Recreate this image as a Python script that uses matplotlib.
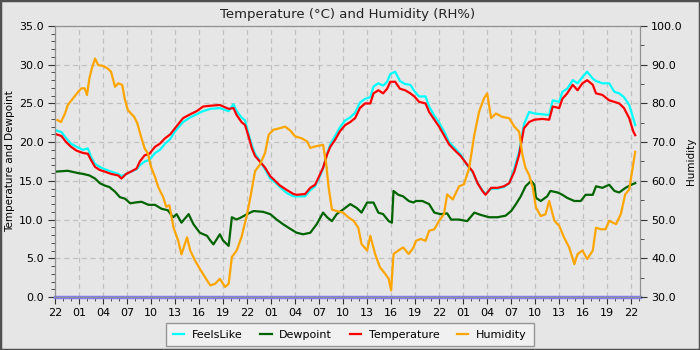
import numpy as np
import matplotlib
matplotlib.use("Agg")
import matplotlib.pyplot as plt
from matplotlib.ticker import MultipleLocator, FormatStrFormatter

# hours since 22:00 on the first day
hour_labels = ["22", "01", "04", "07", "10", "13", "16", "19"] * 3 + ["22"]

temp_t = [0.2, 0.8, 1.4, 2.0, 2.7, 3.5, 4.1, 4.5, 5.0, 5.6, 6.2, 7.0, 7.9, 8.3, 8.9, 9.5,
          10.2, 10.6, 11.2, 11.8, 12.5, 13.1, 13.75, 14.4, 15.0, 16.0, 16.9, 17.7, 18.5, 19.4,
          20.6, 21.7, 22.3, 22.7, 23.3, 23.75, 24.2, 24.6, 25.0, 25.6, 26.25, 26.9, 27.5, 28.1,
          29.0, 29.8, 30.2, 31.25, 31.9, 32.5, 33.1, 33.5, 34.0, 34.4, 35.0, 35.6, 36.25, 36.9,
          37.5, 38.1, 38.75, 39.4, 39.8, 40.4, 41.0, 41.5, 41.9, 42.5, 43.1, 43.75, 44.4, 44.9,
          45.5, 46.3, 46.75, 47.4, 48.0, 48.6, 49.25, 49.9, 50.7, 51.5, 52.2, 52.8, 53.4, 53.8,
          54.5, 55.3, 56.1, 56.75, 57.4, 58.0, 58.6, 59.25, 59.9, 60.9, 61.75, 62.2, 63.0, 63.4,
          64.0, 64.7, 65.3, 65.9, 66.5, 67.2, 67.6, 68.4, 69.25, 69.9, 70.5, 71.1, 71.75, 72.25, 72.5]
temperature = [21.0, 20.8, 20.0, 19.4, 18.9, 18.6, 18.5, 17.7, 16.8, 16.4, 16.2, 15.9, 15.7, 15.3, 15.9, 16.2,
               16.6, 17.5, 18.3, 18.5, 19.4, 19.8, 20.5, 21.0, 21.8, 23.1, 23.6, 24.0, 24.6, 24.7,
               24.8, 24.3, 24.4, 23.5, 22.6, 22.2, 20.7, 19.2, 18.2, 17.5, 16.7, 15.6, 15.0, 14.4,
               13.8, 13.3, 13.2, 13.3, 14.1, 14.5, 15.8, 16.7, 18.4, 19.4, 20.3, 21.4, 22.2, 22.6,
               23.1, 24.4, 25.0, 25.0, 26.3, 26.7, 26.3, 26.9, 27.8, 27.8, 26.9, 26.7, 26.3, 25.9,
               25.2, 25.0, 23.9, 22.9, 22.0, 20.9, 19.7, 19.0, 18.2, 17.1, 16.2, 14.7, 13.7, 13.2,
               14.1, 14.1, 14.3, 14.7, 16.2, 18.4, 21.8, 22.6, 22.9, 23.0, 22.9, 24.6, 24.4, 25.6,
               26.3, 27.4, 26.7, 27.6, 28.0, 27.4, 26.3, 26.1, 25.4, 25.2, 25.0, 24.4, 23.1, 21.4, 20.9]
feelslike = [21.5, 21.3, 20.5, 19.8, 19.4, 19.0, 19.2, 18.1, 17.2, 16.8, 16.5, 16.2, 15.9, 15.6, 15.9, 16.2,
             16.5, 17.0, 17.5, 17.7, 18.6, 19.0, 19.8, 20.4, 21.4, 22.6, 23.2, 23.6, 24.0, 24.3,
             24.4, 24.0, 24.9, 24.0, 23.2, 22.8, 21.0, 19.6, 18.5, 17.6, 16.5, 15.3, 14.8, 14.2,
             13.4, 13.0, 13.0, 13.0, 13.8, 14.3, 15.6, 16.6, 18.5, 19.7, 20.8, 21.9, 22.8, 23.2,
             23.8, 25.1, 25.6, 25.8, 27.2, 27.6, 27.3, 27.8, 28.8, 29.1, 27.9, 27.5, 27.4, 26.6,
             25.9, 25.9, 24.6, 23.4, 22.5, 21.4, 20.0, 19.3, 18.4, 17.0, 16.1, 14.7, 13.8, 13.3,
             14.0, 14.0, 14.2, 14.7, 16.6, 18.8, 22.3, 23.9, 23.7, 23.6, 23.5, 25.4, 25.2, 26.5,
             26.9, 28.0, 27.6, 28.4, 29.1, 28.2, 27.9, 27.6, 27.6, 26.5, 26.3, 25.8, 24.8, 23.1, 22.2]

dew_t = [0.2, 1.6, 2.9, 3.5, 4.3, 5.0, 5.6, 6.2, 6.8, 7.5, 8.1, 8.75, 9.4, 10.0, 10.8, 11.7,
         12.5, 13.3, 14.1, 14.75, 15.2, 15.8, 16.7, 17.3, 18.1, 19.0, 19.4, 19.8, 20.6, 21.0,
         21.7, 22.1, 22.7, 23.3, 24.0, 24.8, 26.0, 26.9, 27.7, 28.5, 29.4, 30.2, 31.0, 31.9,
         32.7, 33.5, 34.0, 34.6, 35.2, 36.0, 36.9, 37.7, 38.3, 39.0, 39.8, 40.4, 41.0, 41.7,
         42.1, 42.3, 42.9, 43.5, 44.2, 44.8, 45.1, 45.9, 46.75, 47.4, 48.2, 49.0, 49.5, 50.5,
         51.5, 52.4, 53.2, 54.25, 55.3, 56.3, 57.0, 57.6, 58.2, 58.8, 59.5, 59.9, 60.1, 60.7,
         61.5, 61.9, 62.8, 63.4, 64.0, 64.9, 65.7, 66.3, 67.2, 67.6, 68.4, 69.25, 69.9, 70.5,
         71.3, 72.0, 72.5]
dewpoint = [16.2, 16.3, 16.0, 15.9, 15.7, 15.3, 14.7, 14.4, 14.2, 13.6, 12.9, 12.7, 12.1, 12.2, 12.3, 11.9,
            11.9, 11.4, 11.2, 10.3, 10.7, 9.6, 10.7, 9.4, 8.3, 7.9, 7.3, 6.8, 8.1, 7.3,
            6.6, 10.3, 10.0, 10.3, 10.7, 11.1, 11.0, 10.7, 10.0, 9.4, 8.8, 8.3, 8.1, 8.3,
            9.4, 10.9, 10.3, 9.8, 10.7, 11.3, 12.0, 11.5, 10.9, 12.2, 12.2, 10.9, 10.7, 9.8,
            9.6, 13.7, 13.2, 13.0, 12.4, 12.2, 12.4, 12.4, 12.0, 10.9, 10.7, 10.8, 10.0, 10.0,
            9.8, 10.9, 10.6, 10.3, 10.3, 10.5, 11.1, 12.0, 13.0, 14.3, 15.0, 14.5, 12.8, 12.4,
            13.0, 13.7, 13.5, 13.2, 12.8, 12.4, 12.4, 13.2, 13.2, 14.3, 14.1, 14.5, 13.7, 13.5,
            14.1, 14.5, 14.7]

hum_t = [0.3, 0.75, 1.25, 1.6, 2.25, 2.9, 3.3, 3.7, 4.0, 4.3, 4.6, 5.0, 5.4, 6.0, 6.6, 7.0,
         7.5, 7.9, 8.4, 8.7, 9.1, 9.5, 9.9, 10.3, 10.75, 11.2, 11.6, 12.0, 12.5, 12.9, 13.5,
         13.9, 14.3, 14.8, 15.4, 15.8, 16.5, 16.9, 17.5, 18.1, 18.75, 19.4, 20.0, 20.6, 21.25,
         21.7, 22.1, 22.7, 23.3, 24.0, 24.4, 25.0, 25.6, 26.25, 26.7, 27.3, 28.1, 28.75, 29.4,
         30.0, 30.8, 31.5, 31.9, 32.5, 33.5, 33.9, 34.2, 34.6, 35.2, 36.0, 36.7, 37.3, 37.9,
         38.3, 39.0, 39.4, 40.0, 40.6, 41.25, 41.7, 42.0, 42.3, 42.9, 43.5, 44.2, 44.8, 45.1,
         45.7, 46.3, 46.75, 47.4, 48.0, 48.6, 49.0, 49.7, 50.5, 51.1, 51.75, 52.4, 53.0, 53.6,
         54.0, 54.5, 55.1, 55.9, 56.75, 57.4, 58.0, 58.4, 58.8, 59.25, 59.7, 60.1, 60.7, 61.3,
         61.75, 62.4, 63.0, 63.6, 64.25, 64.9, 65.3, 65.9, 66.5, 67.2, 67.6, 68.2, 68.8, 69.25,
         70.1, 70.7, 71.25, 71.75, 72.25, 72.5]
humidity = [75.7, 75.2, 77.4, 79.6, 81.3, 83.0, 83.9, 83.9, 82.2, 86.5, 89.0, 91.6, 89.9, 89.7, 89.0, 88.2,
            84.3, 85.2, 84.8, 81.3, 78.3, 77.4, 76.5, 74.8, 71.4, 68.4, 67.1, 63.6, 61.0, 58.4, 55.9,
            53.3, 53.7, 48.0, 44.5, 41.0, 45.4, 42.0, 39.4, 37.3, 35.1, 33.0, 33.4, 34.7, 32.6,
            33.4, 40.3, 42.0, 45.4, 51.4, 55.6, 62.5, 64.2, 67.2, 71.9, 73.2, 73.6, 74.0, 73.0,
            71.5, 71.0, 70.2, 68.5, 68.9, 69.3, 64.2, 58.2, 52.6, 52.2, 51.8, 50.5, 49.7, 47.9,
            43.7, 42.0, 45.8, 41.1, 37.7, 36.0, 34.7, 31.7, 41.1, 42.0, 42.8, 41.1, 42.8, 44.5,
            45.0, 44.5, 47.1, 47.5, 49.7, 51.4, 56.5, 55.2, 58.6, 59.1, 63.3, 71.9, 77.9, 81.3,
            82.6, 76.2, 77.4, 76.5, 76.2, 74.0, 72.7, 66.8, 63.3, 61.5, 58.2, 53.1, 50.9, 51.4,
            54.8, 49.7, 48.4, 45.4, 42.8, 38.5, 41.1, 42.0, 39.8, 42.0, 47.9, 47.5, 47.5, 49.7,
            48.8, 51.4, 56.5, 57.8, 64.2, 67.5]

bg = "#e6e6e6"
fig = plt.figure(figsize=(7, 3.5), dpi=100, facecolor=bg)
ax = fig.add_axes([55 / 700, 53 / 350, 585 / 700, 271 / 350], facecolor=bg)
ax2 = ax.twinx()

# border around whole image
fig.patches.append(plt.Rectangle((0, 0), 1, 1, transform=fig.transFigure,
                                 fill=False, edgecolor="#505050", linewidth=2.5))

l1, = ax.plot(temp_t, feelslike, color="#00ffff", lw=1.6, label="FeelsLike")
l2, = ax.plot(dew_t, dewpoint, color="#006400", lw=1.6, label="Dewpoint")
l3, = ax.plot(temp_t, temperature, color="#ff0000", lw=1.6, label="Temperature")
ax.plot([0, 73.1], [0, 0], color="#8080f0", lw=2.5, clip_on=False, zorder=5)
l4, = ax2.plot(hum_t, humidity, color="#ffa500", lw=1.6, label="Humidity")

ax.set_xlim(0, 73.1)
ax.set_ylim(0, 35)
ax2.set_ylim(30, 100)

ax.set_xticks(np.arange(0, 73, 3))
ax.set_xticklabels(hour_labels)
ax.xaxis.set_minor_locator(MultipleLocator(1))
ax.yaxis.set_major_locator(MultipleLocator(5))
ax.yaxis.set_minor_locator(MultipleLocator(1))
ax.yaxis.set_major_formatter(FormatStrFormatter("%.1f"))
ax2.yaxis.set_major_locator(MultipleLocator(10))
ax2.yaxis.set_minor_locator(MultipleLocator(5))
ax2.yaxis.set_major_formatter(FormatStrFormatter("%.1f"))

for a in (ax, ax2):
    a.tick_params(which="major", length=5, labelsize=8, color="#333333", pad=3)
    a.tick_params(which="minor", length=3, color="#333333")
    for s in a.spines.values():
        s.set_color("#909090")

ax.grid(True, which="major", linestyle=(0, (4, 3)), color="#c0c0c0", linewidth=0.9)
ax.set_axisbelow(True)

ax.set_title("Temperature (°C) and Humidity (RH%)", fontsize=9.5, color="#222222", pad=6)
ax.set_ylabel("Temperature and Dewpoint", fontsize=7.5, labelpad=3)
ax2.set_ylabel("Humidity", fontsize=7.5, labelpad=2)

leg = fig.legend(handles=[l1, l2, l3, l4], loc="lower center", bbox_to_anchor=(0.5, -0.005),
                 ncol=4, fontsize=8, frameon=True, fancybox=False, handlelength=1.0,
                 columnspacing=1.6, handletextpad=0.7, borderpad=0.6)
leg.get_frame().set_facecolor("#f5f5f5")
leg.get_frame().set_edgecolor("#808080")

fig.savefig("out.png", dpi=100, facecolor=bg)
